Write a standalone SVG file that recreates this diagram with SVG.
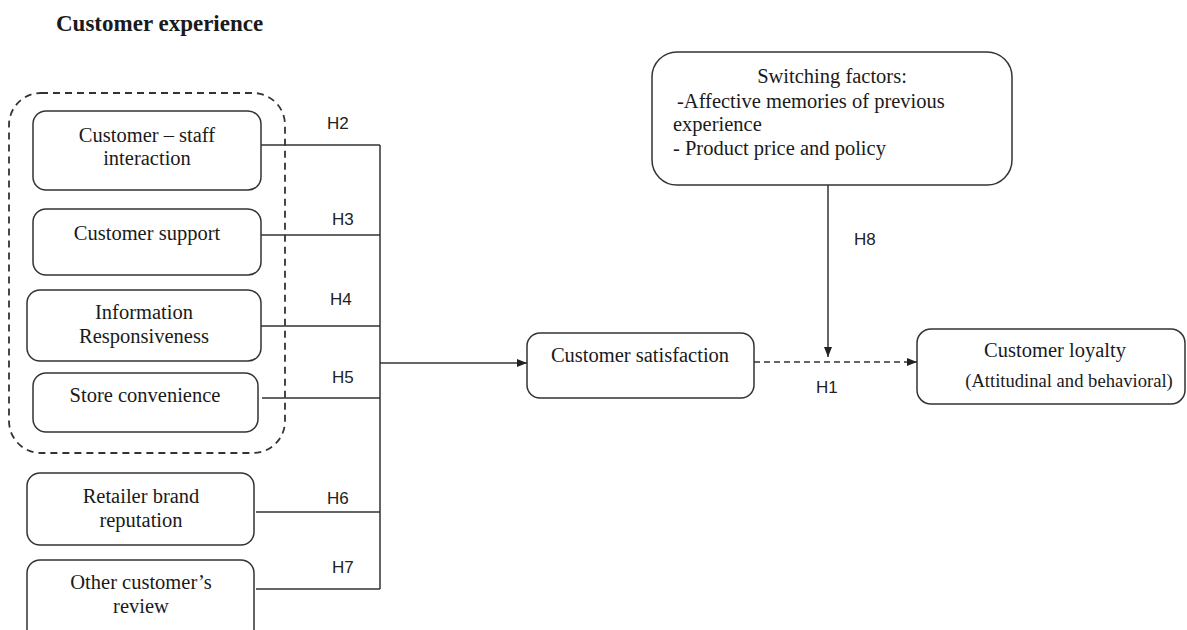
<svg xmlns="http://www.w3.org/2000/svg" width="1187" height="630" viewBox="0 0 1187 630">
<style>
.box{fill:#fff;stroke:#333;stroke-width:1.5}
.t{font-family:"Liberation Serif","Times New Roman",serif;font-size:20.5px;fill:#1a1a1a}
.c{text-anchor:middle}
.h{font-family:"Liberation Sans",Arial,sans-serif;font-size:17px;fill:#222}
.ln{fill:none;stroke:#333;stroke-width:1.5}
</style>
<defs>
<marker id="arr" viewBox="0 0 10 10" refX="10" refY="5" markerWidth="10" markerHeight="10" markerUnits="userSpaceOnUse" orient="auto">
<path d="M0,1 L10,5 L0,9 Z" fill="#222"/>
</marker>
</defs>
<rect width="1187" height="630" fill="#fff"/>
<text x="56" y="31" font-family="Liberation Serif,'Times New Roman',serif" font-size="23" font-weight="bold" fill="#1a1a1a">Customer experience</text>
<rect id="group" x="9" y="93" width="276" height="360" rx="32" fill="none" stroke="#333" stroke-width="1.8" stroke-dasharray="7,5"/>
<g id="n1"><rect class="box" x="33" y="111" width="228" height="79" rx="13"/><text class="t c" x="147" y="142">Customer – staff</text><text class="t c" x="147" y="165">interaction</text></g>
<g id="n2"><rect class="box" x="33" y="209" width="228" height="66" rx="13"/><text class="t c" x="147" y="240">Customer support</text></g>
<g id="n3"><rect class="box" x="27" y="290" width="234" height="71" rx="13"/><text class="t c" x="144" y="319">Information</text><text class="t c" x="144" y="343">Responsiveness</text></g>
<g id="n4"><rect class="box" x="33" y="373" width="225" height="59" rx="13"/><text class="t c" x="145" y="402">Store convenience</text></g>
<g id="n5"><rect class="box" x="27" y="473" width="227" height="72" rx="13"/><text class="t c" x="141" y="503">Retailer brand</text><text class="t c" x="141" y="527">reputation</text></g>
<g id="n6"><rect class="box" x="27" y="560" width="227" height="85" rx="13"/><text class="t c" x="141" y="589">Other customer’s</text><text class="t c" x="141" y="613">review</text></g>
<g id="n7"><rect class="box" x="652" y="52" width="360" height="133" rx="25"/><text class="t c" x="832" y="83">Switching factors:</text><text class="t" x="677" y="108">-Affective memories of previous</text><text class="t" x="673" y="131">experience</text><text class="t" x="673" y="155">- Product price and policy</text></g>
<g id="n8"><rect class="box" x="527" y="333" width="227" height="65" rx="13"/><text class="t c" x="640" y="362">Customer satisfaction</text></g>
<g id="n9"><rect class="box" x="917" y="329" width="268" height="75" rx="14"/><text class="t c" x="1055" y="357">Customer loyalty</text><text class="t c" x="1069" y="387" style="font-size:18.6px">(Attitudinal and behavioral)</text></g>
<g id="connectors">
<path class="ln" d="M261,145 H380 M261,235 H380 M261,326 H380 M262,398 H380 M256,512 H380 M256,589 H380 M380,145 V589"/>
<path class="ln" d="M380,363 H527" marker-end="url(#arr)"/>
<path class="ln" d="M754,362 H917" stroke-dasharray="6,4" marker-end="url(#arr)"/>
<path class="ln" d="M828,185 V357" marker-end="url(#arr)"/>
<text class="h" x="327" y="129">H2</text>
<text class="h" x="332" y="225">H3</text>
<text class="h" x="330" y="305">H4</text>
<text class="h" x="332" y="383">H5</text>
<text class="h" x="327" y="504">H6</text>
<text class="h" x="332" y="573">H7</text>
<text class="h" x="854" y="245">H8</text>
<text class="h" x="816" y="393">H1</text>
</g>
</svg>
